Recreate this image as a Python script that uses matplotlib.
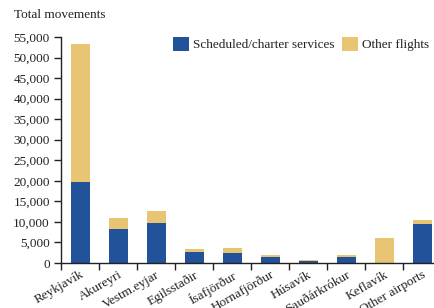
import matplotlib
matplotlib.use("Agg")
import matplotlib.pyplot as plt
import numpy as np
from matplotlib.ticker import FuncFormatter, FixedLocator

categories = ["Reykjavík", "Akureyri", "Vestm.eyjar", "Egilsstaðir", "Ísafjörður",
              "Hornafjörður", "Húsavík", "Sauðárkrókur", "Keflavík", "Other airports"]
scheduled = [19800, 8300, 9700, 2600, 2400, 1400, 400, 1400, 0, 9500]
other = [33400, 2700, 3000, 800, 1200, 500, 300, 500, 6000, 900]
series_names = ["Scheduled/charter services", "Other flights"]

blue = "#22529a"
gold = "#e8c572"

plt.rcParams['font.family'] = ['Liberation Serif', 'DejaVu Serif']

fig = plt.figure(figsize=(4.34, 3.08), dpi=100)
ax = fig.add_axes([61/434, (308-263)/308, 380/434, (263-37)/308])

x = np.arange(len(categories))
ax.bar(x, scheduled, width=0.5, color=blue, label=series_names[0])
ax.bar(x, other, width=0.5, bottom=scheduled, color=gold, label=series_names[1])

ax.set_xlim(-0.5, len(categories) - 0.5)
ax.set_ylim(0, 55000)
ax.set_yticks(np.arange(0, 55001, 5000))
ax.yaxis.set_major_formatter(FuncFormatter(lambda v, p: f"{int(v):,}"))
ax.tick_params(axis='y', labelsize=9.5, length=5, width=1, pad=3, colors='#222222')

ax.xaxis.set_major_locator(FixedLocator(np.arange(-0.5, len(categories), 1.0)))
ax.xaxis.set_major_formatter(FuncFormatter(lambda v, p: ""))
ax.xaxis.set_minor_locator(FixedLocator(x))
ax.set_xticklabels(categories, minor=True)
ax.tick_params(axis='x', which='major', length=5, width=1, color='#222222')
ax.tick_params(axis='x', which='minor', length=0, labelsize=9.5, pad=4, colors='#222222')
for lab in ax.get_xticklabels(minor=True):
    lab.set_rotation(30)
    lab.set_ha('right')
    lab.set_rotation_mode('anchor')

for s in ['top', 'right']:
    ax.spines[s].set_visible(False)
for s in ['left', 'bottom']:
    ax.spines[s].set_linewidth(1)
    ax.spines[s].set_color('#222222')

fig.text(14/434, 1 - 15/308, "Total movements", fontsize=9.5, va='center', ha='left', color='#222222')

leg = ax.legend(loc='upper left', bbox_to_anchor=((173-61)/380, 1.0 + 0/226), ncol=2, frameon=False,
                fontsize=9.5, handlelength=1.2, handleheight=1.2, handletextpad=0.3,
                columnspacing=0.6, borderaxespad=0, borderpad=0)
for t in leg.get_texts():
    t.set_color('#222222')

fig.savefig("out.png", dpi=100)
